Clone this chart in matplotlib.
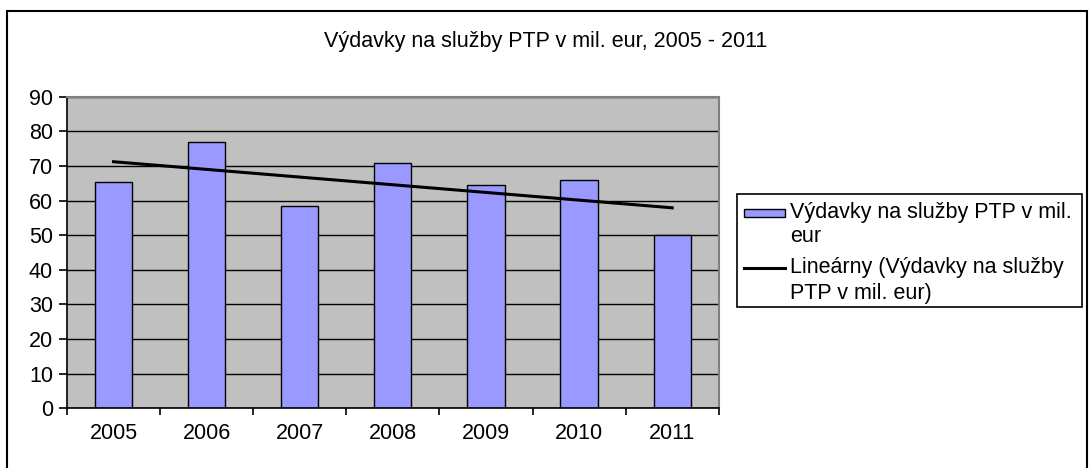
import matplotlib
matplotlib.use("Agg")
import matplotlib.pyplot as plt
import numpy as np
from matplotlib.lines import Line2D
from matplotlib.patches import Rectangle

# ---------------------------- Data -------------------------------------------
years = ["2005", "2006", "2007", "2008", "2009", "2010", "2011"]
spending = [65.5, 76.9, 58.4, 70.8, 64.5, 66.0, 50.0]  # mil. eur

title = "Výdavky na služby PTP v mil. eur, 2005 - 2011"
bar_label = ["Výdavky na služby PTP v mil.", "eur"]
trend_label = ["Lineárny (Výdavky na služby", "PTP v mil. eur)"]

BAR_COLOR = "#9999ff"
W, H = 1089, 468

plt.rcParams["font.family"] = ["Liberation Sans", "DejaVu Sans"]
plt.rcParams["font.size"] = 15.5

fig = plt.figure(figsize=(W / 100, H / 100), dpi=100)
ax = fig.add_axes([0.0615, 0.128, 0.5985, 0.665])

x = np.arange(len(years))
ax.set_facecolor("#c0c0c0")
ax.set_axisbelow(True)
ax.yaxis.grid(True, color="black", linewidth=1.0)

ax.bar(x, spending, width=0.4, color=BAR_COLOR, edgecolor="black",
       linewidth=1.0, zorder=2)

# linear trend (least squares over the series)
k, q = np.polyfit(x, spending, 1)
ax.plot(x, k * x + q, color="black", linewidth=2.2, zorder=3)

ax.set_xlim(-0.5, len(years) - 0.5)
ax.set_ylim(0, 90)
ax.set_yticks(np.arange(0, 91, 10))
ax.set_xticks(x)
ax.set_xticklabels(years)
ax.set_xticks(np.arange(-0.5, len(years)), minor=True)
ax.tick_params(axis="x", which="major", length=0, pad=11)
ax.tick_params(axis="x", which="minor", length=5, width=1.2, color="black")
ax.tick_params(axis="y", length=6, width=1.2, pad=4)

for side in ("left", "bottom"):
    ax.spines[side].set_color("black")
    ax.spines[side].set_linewidth(1.2)
for side in ("top", "right"):
    ax.spines[side].set_color("#808080")
    ax.spines[side].set_linewidth(1.5)

fig.text(0.501, 0.912, title, ha="center", va="center")


# ---- Legend (drawn by hand so handles sit on the first text line) ----------
def fx(px):
    return px / W


def fy(py):
    return 1 - py / H


fig.add_artist(Rectangle((fx(737), fy(307)), fx(1082) - fx(737), fy(194) - fy(307),
                         transform=fig.transFigure, facecolor="white",
                         edgecolor="black", linewidth=1.2))
fig.add_artist(Rectangle((fx(744), fy(217)), fx(785) - fx(744), fy(209) - fy(217),
                         transform=fig.transFigure, facecolor=BAR_COLOR,
                         edgecolor="black", linewidth=1.0))
fig.add_artist(Line2D([fx(744), fx(785)], [fy(268), fy(268)],
                      transform=fig.transFigure, color="black", linewidth=2.2))

for line, ypx in zip(bar_label + trend_label, [213, 237, 268, 293]):
    fig.text(fx(790), fy(ypx), line, ha="left", va="center")

# outer chart border
fig.add_artist(Rectangle((fx(7), -0.1), fx(1087) - fx(7), fy(11) + 0.1,
                         transform=fig.transFigure, fill=False,
                         edgecolor="black", linewidth=1.5))

fig.savefig("out.png", dpi=100)
